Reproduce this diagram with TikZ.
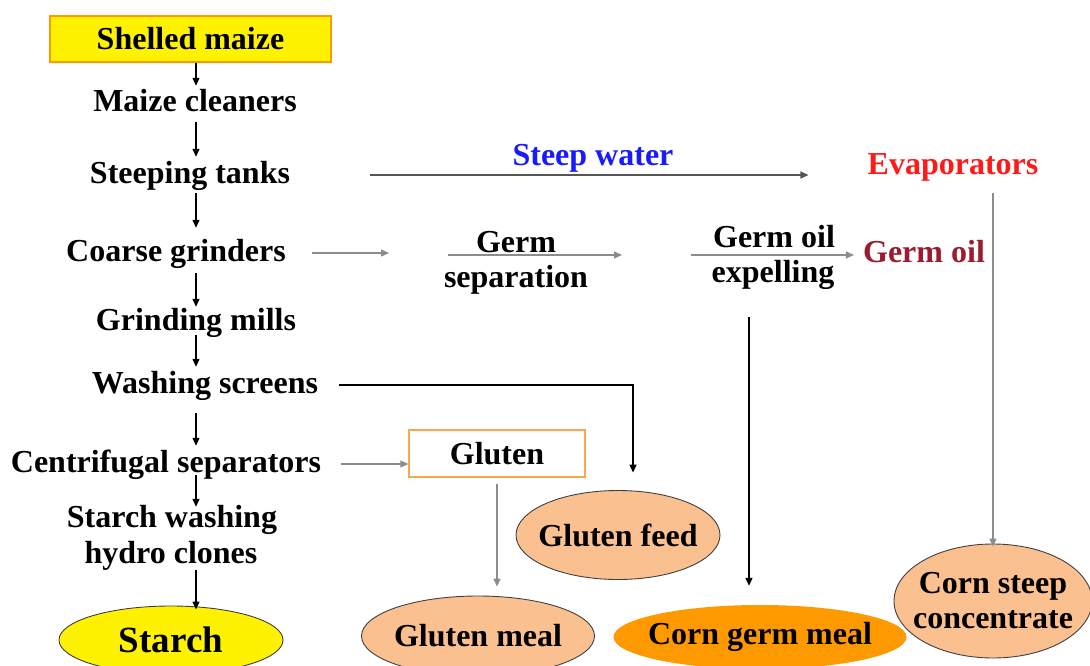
\documentclass[tikz,border=0pt]{standalone}
\usepackage{fontspec}
\setmainfont{Liberation Serif}
\usetikzlibrary{arrows.meta,shapes.geometric}
\definecolor{peach}{HTML}{FAC090}
\definecolor{dorange}{HTML}{FF9900}
\definecolor{boxorange}{HTML}{FFA64D}
\definecolor{stblue}{HTML}{1A1AFF}
\definecolor{evred}{HTML}{FF1A1A}
\definecolor{oilred}{HTML}{9B1B30}
\definecolor{lgrey}{HTML}{8C8C8C}
\definecolor{dgrey}{HTML}{555555}
\definecolor{edge}{HTML}{404040}
\begin{document}
\begin{tikzpicture}[x=1pt,y=-1pt,
  fnt/.style={font=\fontsize{32}{35}\selectfont\bfseries},
  lbl/.style={fnt, inner sep=3pt, text height=23pt, text depth=7pt, anchor=base},
  arr/.style={draw=black, line width=1.3pt, -{Triangle[length=8pt,width=7pt]}},
  garr/.style={arr, draw=lgrey},
  prod/.style={ellipse, fnt, draw=edge, line width=0.9pt, fill=peach, inner xsep=-40pt, inner ysep=-12pt, align=center}
]
\useasboundingbox (0,0) rectangle (1090,666);

% main column
\node[fnt, draw=dorange, line width=1.5pt, fill=yellow, minimum width=281pt, minimum height=46pt, inner sep=0pt] (shelled) at (190.5,39) {Shelled maize};
\node[lbl] (cleaners) at (195,112) {Maize cleaners};
\node[lbl] (steeping) at (190,183) {Steeping tanks};
\node[lbl] (coarse) at (176,261) {Coarse grinders};
\node[lbl] (grinding) at (196,330) {Grinding mills};
\node[lbl] (washing) at (205,393) {Washing screens};
\node[lbl] (centrif) at (166,472) {Centrifugal separators};
\node[lbl] (starchw) at (172,527) {Starch washing};
\node[lbl] (hydro) at (171,563) {hydro clones};
\node[ellipse, draw=edge, line width=0.9pt, fill=yellow, inner xsep=-30pt, inner ysep=-10pt, minimum width=224pt, minimum height=68pt, font=\fontsize{37}{40}\selectfont\bfseries] (starch) at (171,640) {Starch};

\coordinate (col) at (196,0);
\draw[arr] (shelled.south -| col) -- (cleaners.north -| col);
\draw[arr] (cleaners.south -| col) -- (steeping.north -| col);
\draw[arr, shorten >=7pt] (steeping.south -| col) -- (coarse.north -| col);
\draw[arr, shorten <=2pt, shorten >=-3pt] (coarse.south -| col) -- (grinding.north -| col);
\draw[arr, shorten <=-5pt] (grinding.south -| col) -- (washing.north -| col);
\draw[arr, shorten <=10pt] (washing.south -| col) -- (centrif.north -| col);
\draw[arr, shorten <=-7pt, shorten >=-6pt] (centrif.south -| col) -- (starchw.north -| col);
\draw[arr, shorten <=-3pt, shorten >=-4pt] (hydro.south -| col) -- (starch.north -| col);

% steep water branch
\node[lbl, text=stblue] (stw) at (593,165) {Steep water};
\node[lbl, text=evred] (evap) at (953,175) {Evaporators};
\draw[arr, draw=dgrey, shorten <=77pt, shorten >=56pt] (steeping.east) -- (steeping.east -| evap.west);
\node[prod, minimum width=198pt, minimum height=114pt] (cs) at (993,601) {Corn steep\\concentrate};
\draw[garr, shorten <=8pt, shorten >=-3pt] (evap.south -| cs.north) -- (cs.north);

% germ branch
\coordinate (c1) at (389,253);
\coordinate (gs1) at (448,255);
\coordinate (gs2) at (622,255);
\coordinate (ge1) at (691,255);
\draw[garr, shorten <=23pt] (coarse.east) -- (c1);
\node[lbl] (germ) at (516,252) {Germ};
\node[lbl] (sep) at (516,287) {separation};
\draw[garr] (gs1) -- (gs2);
\node[lbl] (germoil) at (774,247) {Germ oil};
\node[lbl] (expel) at (773,282) {expelling};
\node[lbl, text=oilred] (oil) at (924,262) {Germ oil};
\draw[garr, shorten >=6pt] (ge1) -- (ge1 -| oil.west);
\node[ellipse, fnt, fill=dorange, inner xsep=-40pt, inner ysep=-10pt, minimum width=293pt, minimum height=64pt] (cgm) at (760,637) {Corn germ meal};
\draw[arr, shorten <=25pt, shorten >=19pt] ([xshift=-24pt]expel.south) -- ([xshift=-11pt]cgm.north);

% gluten branch
\node[prod, minimum width=204pt, minimum height=89pt] (gf) at (618,535) {Gluten feed};
\draw[arr, shorten <=18pt, shorten >=17.5pt] (washing.east) -| ([xshift=15pt]gf.north);
\node[fnt, draw=boxorange, line width=1.2pt, fill=white, minimum width=176pt, minimum height=47pt, inner sep=0pt] (gluten) at (497,453.5) {Gluten};
\draw[garr, shorten <=17pt] (centrif.east) -- (centrif.east -| gluten.west);
\node[prod, minimum width=233pt, minimum height=80pt] (gm) at (478,636) {Gluten meal};
\draw[garr, shorten <=6pt, shorten >=9pt] (gluten.south) -- (gluten.south |- gm.north);
\end{tikzpicture}
\end{document}
